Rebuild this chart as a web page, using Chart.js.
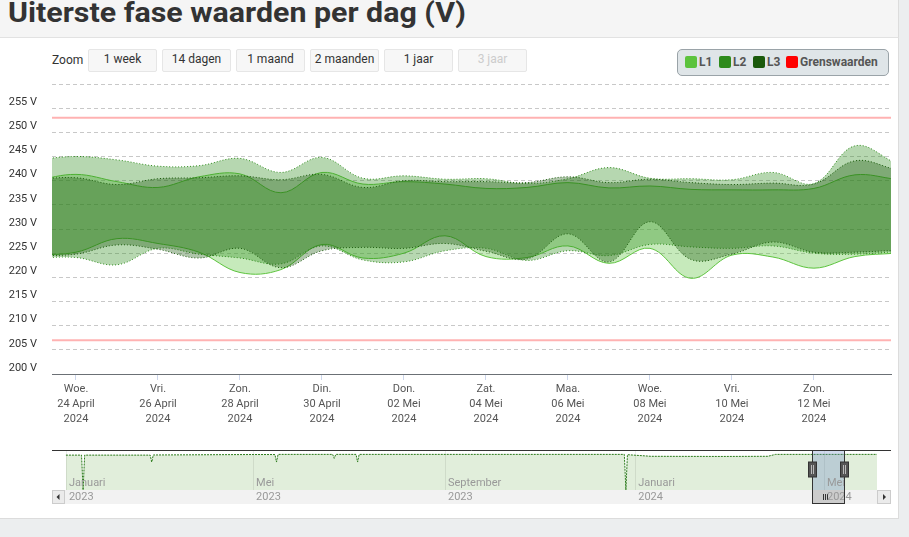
<!DOCTYPE html>
<html>
<head>
<meta charset="utf-8">
<script src="https://cdn.jsdelivr.net/npm/chart.js@4.4.1/dist/chart.umd.min.js"></script>
<style>
    html, body { margin: 0; padding: 0; }
    body { width: 909px; height: 537px; background: #eceeef; position: relative; overflow: hidden; font-family: Roboto, sans-serif; }
    #head { position: absolute; left: 0; top: 0; width: 898px; height: 37px; background: #f5f5f5; border-bottom: 1px solid #e2e2e2; border-right: 1px solid #dcdcdc; }
    #title { position: absolute; left: 8px; top: -4px; font: bold 28px Roboto, sans-serif; color: #333; white-space: nowrap; transform-origin: 0 0; }
    #panel { position: absolute; left: 0; top: 38px; width: 898px; height: 480px; background: #fff; border-right: 1px solid #dcdcdc; border-bottom: 1px solid #dcdcdc; }
    #zoomLabel { position: absolute; left: 52px; top: 53px; font-size: 12px; color: #333; }
    .btn { position: absolute; top: 49px; width: 67px; height: 21px; background: #f7f7f7; border: 1px solid #e6e6e6; border-radius: 2px;
           font-size: 12px; color: #333; text-align: center; line-height: 19px; }
    .btn.off { color: #cccccc; }
    #legend { position: absolute; left: 677px; top: 49px; width: 210px; height: 25px; background: #dfe5e8; border: 1px solid #9aa3a8; border-radius: 5px; }
    .item { position: absolute; top: 6px; font: bold 12px Roboto, sans-serif; color: #555; line-height: 13px; white-space: nowrap; }
    .item i { display: inline-block; width: 12px; height: 12px; border-radius: 2px; vertical-align: top; margin-right: 2px; }
    #mainWrap { position: absolute; left: 0; top: 78px; }
    #navWrap { position: absolute; left: 52px; top: 444px; }
</style>
</head>
<body>
<div id="head"><span id="title">Uiterste fase waarden per dag (V)</span></div>
<div id="panel"></div>
<div id="zoomLabel">Zoom</div>
<div id="buttons"></div>
<div id="legend"></div>
<div id="mainWrap"><canvas id="mainChart" width="898" height="362"></canvas></div>
<div id="navWrap"><canvas id="navChart" width="839" height="62"></canvas></div>

<script>
    // Days shown in the main chart (index 0 = 23 April 2024)
    const days = ['23 April', '24 April', '25 April', '26 April', '27 April', '28 April', '29 April', '30 April',
        '01 Mei', '02 Mei', '03 Mei', '04 Mei', '05 Mei', '06 Mei', '07 Mei', '08 Mei', '09 Mei',
        '10 Mei', '11 Mei', '12 Mei', '13 Mei', '14 Mei'];
    const weekdays = ['Din.', 'Woe.', 'Don.', 'Vri.', 'Zat.', 'Zon.', 'Maa.', 'Din.',
        'Woe.', 'Don.', 'Vri.', 'Zat.', 'Zon.', 'Maa.', 'Din.', 'Woe.', 'Don.',
        'Vri.', 'Zat.', 'Zon.', 'Maa.', 'Din.'];
    const year = '2024';
    const tickDays = [1, 3, 5, 7, 9, 11, 13, 15, 17, 19];

    // Daily min / max voltage per phase
    const l1Low  = [224.6, 225.2, 228.0, 227.0, 225.2, 221.0, 221.6, 226.8, 224.0, 225.0, 228.6,
                    224.3, 224.1, 226.5, 222.9, 226.0, 219.8, 224.6, 224.2, 221.9, 224.3, 225.0];
    const l1High = [240.0, 241.3, 239.8, 238.6, 240.8, 241.4, 237.5, 241.7, 239.3, 239.8, 239.3,
                    238.4, 238.6, 239.6, 238.5, 238.9, 238.2, 238.1, 238.1, 238.4, 241.2, 240.3];
    const l2Low  = [224.0, 224.1, 222.6, 226.0, 224.8, 224.0, 222.8, 226.5, 223.6, 223.2, 225.5,
                    226.0, 223.5, 225.5, 224.5, 226.8, 226.3, 226.0, 226.5, 225.0, 224.8, 225.3];
    const l2High = [244.3, 245.0, 244.3, 243.0, 243.1, 244.6, 241.7, 244.8, 240.5, 241.0, 240.3,
                    240.4, 239.4, 240.4, 242.7, 240.5, 240.4, 240.2, 241.7, 239.4, 247.2, 243.6];
    const l3Low  = [224.5, 224.8, 226.7, 225.8, 224.0, 226.0, 222.0, 225.5, 226.2, 226.0, 227.0,
                    225.4, 223.8, 229.0, 223.2, 231.5, 223.7, 224.8, 227.3, 225.2, 225.2, 225.6];
    const l3High = [240.3, 240.6, 239.2, 240.4, 240.6, 241.0, 240.2, 241.3, 238.6, 240.0, 239.8,
                    239.8, 239.6, 240.8, 239.6, 240.3, 239.6, 239.2, 239.5, 239.3, 244.1, 242.3];
    const limits = [207, 253];

    // Navigator: whole history (day 0 = 1 januari 2023)
    const navDays   = [0, 10, 11, 12, 54, 55, 56, 120, 134, 135, 136, 171, 172, 173, 186, 187, 188,
                       300, 358, 359, 360, 375, 420, 450, 455, 520];
    const navValues = [237, 237, 0, 237, 237, 190, 238, 241, 241, 190, 242, 242, 215, 242, 242, 190, 242,
                       242, 242, 0, 240, 229, 228, 229, 242, 242];
    const navMonths = [0, 120, 243, 365, 486];
    const navMonthLabels = [['Januari', '2023'], ['Mei', '2023'], ['September', '2023'], ['Januari', '2024'], ['Mei', '2024']];
    const navFirstDay = 478; // 23 April 2024

    const viewMin = 0.415, viewMax = 20.88;

    const buttonLabels = ['1 week', '14 dagen', '1 maand', '2 maanden', '1 jaar', '3 jaar'];
    const phases = [
        { name: 'L1', color: '#5cc33d', fill: 'rgba(92,195,61,0.35)', low: l1Low, high: l1High, dash: [] },
        { name: 'L2', color: '#2e8b1c', fill: 'rgba(46,139,28,0.35)', low: l2Low, high: l2High, dash: [1, 2] },
        { name: 'L3', color: '#1b5a0c', fill: 'rgba(27,90,12,0.35)', low: l3Low, high: l3High, dash: [1, 2] }
    ];

    // Title squeezed to a condensed look
    const title = document.getElementById('title');
    title.style.transform = 'scaleX(' + (458 / title.getBoundingClientRect().width) + ')';

    // Range buttons
    const btnBox = document.getElementById('buttons');
    buttonLabels.forEach((b, i) => {
        const d = document.createElement('div');
        d.className = 'btn' + (i === buttonLabels.length - 1 ? ' off' : '');
        d.style.left = (88 + i * 74) + 'px';
        d.textContent = b;
        btnBox.appendChild(d);
    });

    // Legend
    const legend = document.getElementById('legend');
    const legendItems = phases.map(p => [p.name, p.color]).concat([['Grenswaarden', '#ff0000']]);
    const legendX = [7, 41, 75, 108];
    legendItems.forEach((it, i) => {
        const d = document.createElement('div');
        d.className = 'item';
        d.style.left = legendX[i] + 'px';
        d.innerHTML = '<i style="background:' + it[1] + '"></i>' + it[0];
        legend.appendChild(d);
    });

    Chart.defaults.font.family = 'Roboto';
    Chart.defaults.animation = false;

    const toPoints = arr => arr.map((v, i) => ({ x: i, y: v }));

    const datasets = [];
    phases.forEach((p, k) => {
        const order = phases.length - k;
        datasets.push({
            label: p.name + ' min', data: toPoints(p.low), fill: false, order: order,
            borderColor: p.color, borderWidth: 1, borderDash: p.dash, tension: 0.38, pointRadius: 0
        });
        datasets.push({
            label: p.name + ' max', data: toPoints(p.high), fill: '-1', order: order,
            borderColor: p.color, backgroundColor: p.fill, borderWidth: 1, borderDash: p.dash, tension: 0.38, pointRadius: 0
        });
    });
    limits.forEach(v => {
        datasets.push({
            label: 'Grenswaarden', data: toPoints(days.map(() => v)), fill: false, order: 0,
            borderColor: 'rgba(255,0,0,0.3)', borderWidth: 2, pointRadius: 0
        });
    });

    // Main chart
    const mainChart = new Chart(document.getElementById('mainChart').getContext('2d'), {
        type: 'line',
        data: { datasets: datasets },
        options: {
            responsive: false,
            layout: { padding: { top: 6, right: 7, left: 0, bottom: 0 } },
            plugins: { legend: { display: false }, tooltip: { enabled: false } },
            scales: {
                x: {
                    type: 'linear', min: viewMin, max: viewMax,
                    afterBuildTicks: scale => { scale.ticks = tickDays.map(v => ({ value: v })); },
                    afterFit: scale => { scale.height = 66; scale.paddingLeft = 0; scale.paddingRight = 0; },
                    grid: { drawOnChartArea: false, drawTicks: true, tickLength: 6, tickColor: '#ccd6eb' },
                    border: { color: '#6b7075', width: 1 },
                    ticks: {
                        autoSkip: false, maxRotation: 0, padding: 2, color: '#555',
                        font: { size: 11, lineHeight: '15px' },
                        callback: v => [weekdays[v], days[v], year]
                    }
                },
                y: {
                    min: 200, max: 260,
                    afterFit: scale => { scale.width = 52; scale.paddingTop = 0; scale.paddingBottom = 0; },
                    grid: { color: '#c8c8c8', drawTicks: false },
                    border: { display: false, dash: [4, 3] },
                    ticks: {
                        stepSize: 5, padding: 15, labelOffset: -6, color: '#333',
                        font: { size: 11 },
                        callback: v => (v === 260 ? '' : v + ' V')
                    }
                }
            }
        }
    });

    // Navigator decorations: grid, labels, scrollbar, selected range
    const navDecor = {
        id: 'navDecor',
        afterDatasetsDraw(chart) {
            const { ctx, chartArea: a, scales: { x } } = chart;
            ctx.save();
            ctx.strokeStyle = 'rgba(0,0,0,0.08)';
            ctx.lineWidth = 1;
            navMonths.forEach(m => {
                const px = Math.round(x.getPixelForValue(m)) + 0.5;
                ctx.beginPath(); ctx.moveTo(px, a.top); ctx.lineTo(px, a.bottom + 14); ctx.stroke();
            });
            ctx.restore();
        },
        afterDraw(chart) {
            const { ctx, chartArea: a, scales: { x } } = chart;
            const w = chart.width;
            ctx.save();
            // scrollbar track
            ctx.fillStyle = '#f2f2f2';
            ctx.fillRect(a.left, a.bottom, a.right - a.left, 14);
            // scrollbar buttons
            [[0, a.left], [a.right, w]].forEach(([l, r], i) => {
                ctx.fillStyle = '#ebebeb';
                ctx.fillRect(l, a.bottom, r - l, 14);
                ctx.strokeStyle = '#cccccc';
                ctx.strokeRect(l + 0.5, a.bottom + 0.5, r - l - 1, 13);
                const cx = (l + r) / 2, cy = a.bottom + 7;
                ctx.fillStyle = '#333';
                ctx.beginPath();
                if (i === 0) { ctx.moveTo(cx - 2, cy); ctx.lineTo(cx + 1, cy - 3); ctx.lineTo(cx + 1, cy + 3); }
                else { ctx.moveTo(cx + 2, cy); ctx.lineTo(cx - 1, cy - 3); ctx.lineTo(cx - 1, cy + 3); }
                ctx.fill();
            });
            // selected range
            const x0 = Math.round(x.getPixelForValue(navFirstDay + viewMin)) + 0.5;
            const x1 = Math.round(x.getPixelForValue(navFirstDay + viewMax)) + 0.5;
            ctx.fillStyle = 'rgba(102,133,194,0.3)';
            ctx.fillRect(x0, a.top, x1 - x0, a.bottom - a.top);
            ctx.fillStyle = '#cccccc';
            ctx.fillRect(x0, a.bottom, x1 - x0, 14);
            // thumb grip
            const gx = Math.round((x0 + x1) / 2) - 4;
            ctx.strokeStyle = '#333';
            ctx.lineWidth = 1;
            [-2, 0, 2].forEach(o => {
                ctx.beginPath(); ctx.moveTo(gx + o + 0.5, a.bottom + 4); ctx.lineTo(gx + o + 0.5, a.bottom + 10); ctx.stroke();
            });
            // month labels
            ctx.fillStyle = '#999';
            ctx.font = '11px Roboto';
            ctx.textBaseline = 'alphabetic';
            navMonths.forEach((m, i) => {
                const px = x.getPixelForValue(m) + 3;
                ctx.fillText(navMonthLabels[i][0], px, a.bottom - 4);
                ctx.fillText(navMonthLabels[i][1], px, a.bottom + 10);
            });
            // outline
            ctx.strokeStyle = '#333';
            ctx.beginPath();
            ctx.moveTo(0, a.top - 0.5); ctx.lineTo(w, a.top - 0.5);
            ctx.stroke();
            ctx.strokeRect(x0, a.top - 0.5, x1 - x0, a.bottom - a.top + 14);
            // handles
            [x0, x1].forEach(hx => {
                ctx.fillStyle = '#555';
                ctx.fillRect(hx - 4, a.top + 11, 8, 15);
                ctx.strokeStyle = '#333';
                ctx.strokeRect(hx - 4, a.top + 11, 8, 15);
                ctx.strokeStyle = '#bbb';
                [-1, 1].forEach(o => {
                    ctx.beginPath(); ctx.moveTo(hx + o, a.top + 14); ctx.lineTo(hx + o, a.top + 23); ctx.stroke();
                });
            });
            ctx.restore();
        }
    };

    const navChart = new Chart(document.getElementById('navChart').getContext('2d'), {
        type: 'line',
        data: {
            datasets: [{
                data: navDays.map((d, i) => ({ x: d, y: navValues[i] })),
                fill: 'origin', backgroundColor: '#e1eedb',
                borderColor: '#2a7a1a', borderWidth: 1, borderDash: [2, 1], pointRadius: 0, tension: 0
            }]
        },
        options: {
            responsive: false,
            layout: { padding: { top: 7, right: 14, left: 13, bottom: 16 } },
            plugins: { legend: { display: false }, tooltip: { enabled: false } },
            scales: {
                x: { type: 'linear', min: -0.6, max: 520, display: false },
                y: { min: 0, max: 265, display: false }
            }
        },
        plugins: [navDecor]
    });
</script>
</body>
</html>
